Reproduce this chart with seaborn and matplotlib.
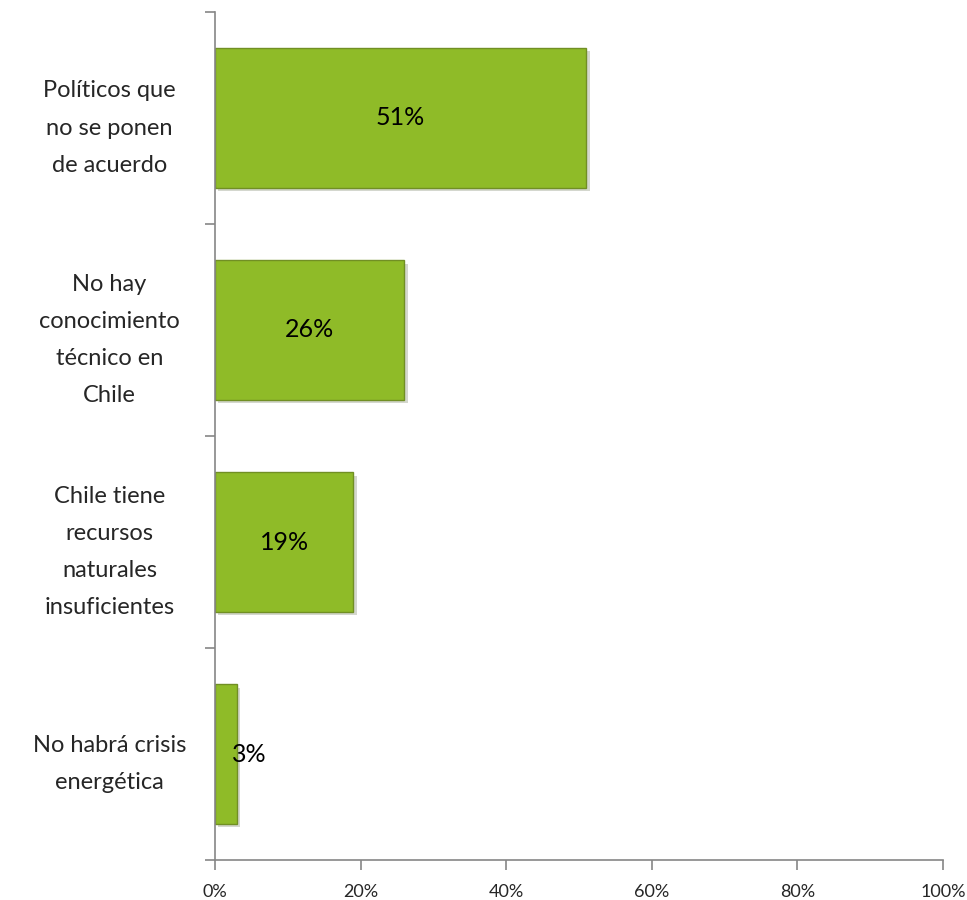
import numpy as np
import pandas as pd
import matplotlib.pyplot as plt
import matplotlib.patheffects as pe
import seaborn as sns

categories = [
    'Políticos que\nno se ponen\nde acuerdo',
    'No hay\nconocimiento\ntécnico en\nChile',
    'Chile tiene\nrecursos\nnaturales\ninsuficientes',
    'No habrá crisis\nenergética',
]
values = [51, 26, 19, 3]
value_labels = ['51%', '26%', '19%', '3%']
x_ticks = [0, 20, 40, 60, 80, 100]
x_tick_labels = ['0%', '20%', '40%', '60%', '80%', '100%']

df = pd.DataFrame({'category': categories, 'value': values})

sns.set_style('white')
plt.rcParams['font.family'] = ['Lato', 'DejaVu Sans']

fig = plt.figure(figsize=(9.67, 9), dpi=100)
ax = fig.add_axes([0.2223, 0.0444, 0.7529, 0.9423])

sns.barplot(data=df, x='value', y='category', orient='h', color='#8fbb28',
            saturation=1, width=0.66, edgecolor='#718f24', linewidth=1.0, ax=ax)

for bar in ax.patches:
    bar.set_path_effects([pe.SimplePatchShadow(offset=(2.5, -2.5), alpha=0.2), pe.Normal()])

# value labels: centred, except a very short bar where the label spills to the right
for bar, lab in zip(ax.patches, value_labels):
    y = bar.get_y() + bar.get_height() / 2
    if bar.get_width() < 10:
        ax.text(bar.get_width() - 0.7, y, lab, ha='left', va='center', fontsize=18, color='black')
    else:
        ax.text(bar.get_x() + bar.get_width() / 2, y, lab,
                ha='center', va='center', fontsize=18, color='black')

ax.set_xlim(0, 100)
ax.set_ylim(len(categories) - 0.5, -0.5)
ax.set_xticks(x_ticks)
ax.set_xticklabels(x_tick_labels, fontsize=13)
ax.set_yticks(range(len(categories)))
ax.set_yticklabels(categories, fontsize=17, ha='center', linespacing=1.95)
ax.set_yticks(np.arange(-0.5, len(categories), 1), minor=True)
ax.tick_params(axis='y', which='major', left=True, length=0, pad=76)
ax.tick_params(axis='y', which='minor', left=True, length=7, color='#868686', width=1.2, direction='out')
ax.tick_params(axis='x', bottom=True, length=7, color='#868686', width=1.2, direction='out', pad=10)
ax.set_xlabel('')
ax.set_ylabel('')

for s in ['top', 'right']:
    ax.spines[s].set_visible(False)
for s in ['left', 'bottom']:
    ax.spines[s].set_color('#868686')
    ax.spines[s].set_linewidth(1.2)

fig.savefig('out.png', dpi=100)
